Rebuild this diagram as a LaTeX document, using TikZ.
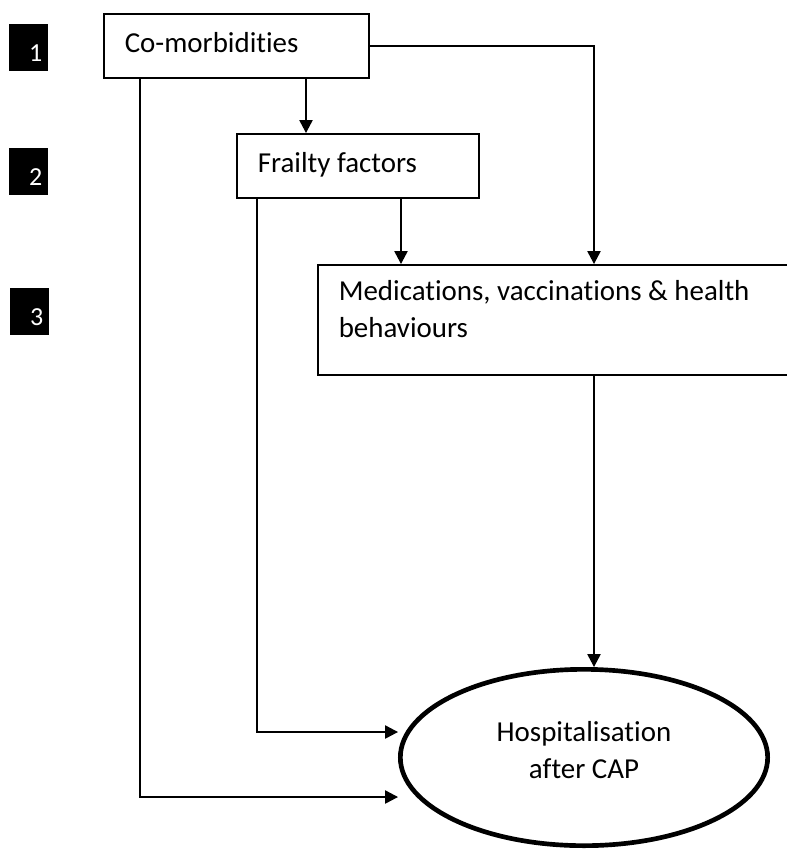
\documentclass[tikz,border=0pt]{standalone}
\usepackage{fontspec}
\setmainfont{Carlito}[Ligatures={NoCommon}]
\usetikzlibrary{arrows.meta,shapes.geometric}

\tikzset{
    box/.style={draw, line width=1.2pt, rectangle, anchor=north west, align=left,
        inner xsep=15.75pt, inner ysep=0pt, text height=15pt, text depth=4.5pt,
        execute at begin node={\spaceskip=0pt\xspaceskip=0pt\relax},
        font=\fontsize{21.7}{27.75}\selectfont},
    num/.style={fill=black, text=white, anchor=north west, minimum width=29.25pt,
        minimum height=35.25pt, inner xsep=4.5pt, inner ysep=0pt, text width=20.25pt,
        align=right, text height=20.25pt, text depth=0pt,
        font=\fontsize{19.5}{23}\selectfont},
    arr/.style={-{Triangle[length=9.75pt,width=10pt]}, line width=1.1pt},
}

\begin{document}
\begin{tikzpicture}[x=0.75pt, y=-0.75pt]
    \useasboundingbox (0,0) rectangle (787,851);

    \node[num] (n1) at (9,24) {1};
    \node[num] (n2) at (9,148) {2};
    \node[num] (n3) at (10,288) {3};

    \node[box, text width=167.25pt, minimum height=48pt] (como) at (103,13) {Co-morbidities};
    \node[box, text width=150pt, minimum height=48pt] (frail) at (236,133) {Frailty factors};
    \node[box, text width=343.5pt, minimum height=82.5pt, text depth=43.5pt] (med) at (317,264)
        {Medications, vaccinations \& health\\behaviours};
    \node[draw, ellipse, line width=3.5pt, minimum width=275.5pt, minimum height=132.25pt,
        align=center, text height=35pt, text depth=4.25pt,
        font=\fontsize{21.7}{27.75}\selectfont] (hosp) at (584,757.5) {Hospitalisation\\after CAP};

    \coordinate (c1) at (306,0);
    \coordinate (c2) at (594,0);
    \coordinate (c3) at (401,0);
    \coordinate (c4) at (257,732);
    \coordinate (c5) at (140,797);

    \draw[arr] (como.south -| c1) -- (frail.north -| c1);
    \draw[arr] (como.east) -| (med.north -| c2);
    \draw[arr] (frail.south -| c3) -- (med.north -| c3);
    \draw[arr] (med.south -| c2) -- (hosp.north -| c2);
    \draw[arr] (frail.south -| c4) |- (hosp.west |- c4);
    \draw[arr] (como.south -| c5) |- (hosp.west |- c5);
\end{tikzpicture}
\end{document}
